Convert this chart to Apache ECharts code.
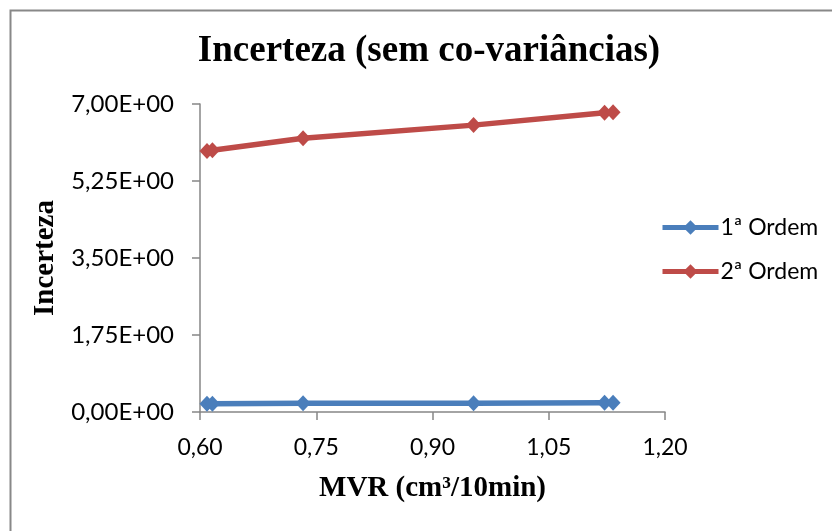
<!DOCTYPE html>
<html>
<head>
<meta charset="utf-8">
<script src="https://cdn.jsdelivr.net/npm/echarts@6/dist/echarts.min.js"></script>
<style>html,body{margin:0;padding:0;background:#fff}#c{width:832px;height:531px}</style>
</head>
<body>
<div id="c"></div>
<script>
const titleText = 'Incerteza (sem co-variâncias)';
const xName = 'MVR (cm³/10min)';
const yName = 'Incerteza';
const seriesNames = ['1ª Ordem', '2ª Ordem'];
const xVals = [0.609, 0.616, 0.733, 0.953, 1.122, 1.133];
const ordem1 = [0.19, 0.19, 0.20, 0.20, 0.21, 0.21];
const ordem2 = [5.93, 5.95, 6.22, 6.52, 6.80, 6.81];

const chart = echarts.init(document.getElementById('c'));
const pair = (ys) => xVals.map((x, i) => [x, ys[i]]);
const tickFont = 'Lato';
const axisColor = '#868686';

chart.setOption({
  animation: false,
  backgroundColor: '#fff',
  graphic: [{
    type: 'rect', left: 8, top: 8, silent: true,
    shape: { width: 900, height: 600 },
    style: { fill: 'none', stroke: '#888888', lineWidth: 2 }
  }],
  title: {
    text: titleText, left: 424, top: 28, textAlign: 'center',
    textStyle: { fontFamily: 'Liberation Serif', fontWeight: 'bold', fontSize: 37, color: '#000' }
  },
  grid: { left: 200, right: 167, top: 104, bottom: 119, containLabel: false },
  legend: {
    orient: 'vertical', left: 655, top: 211, itemWidth: 56, itemHeight: 18, itemGap: 21,
    lineStyle: { width: 5 },
    textStyle: { fontFamily: tickFont, fontSize: 23, color: '#000', padding: [0, 0, 0, -3] },
    data: seriesNames
  },
  xAxis: {
    type: 'value', min: 0.6, max: 1.2, interval: 0.15,
    name: xName, nameLocation: 'middle', nameGap: 62,
    nameTextStyle: { fontFamily: 'Liberation Serif', fontWeight: 'bold', fontSize: 29, color: '#000' },
    axisLine: { show: true, lineStyle: { color: axisColor, width: 1.5 } },
    axisTick: { show: true, length: 8, lineStyle: { color: axisColor, width: 1.5 } },
    axisLabel: { margin: 24, fontFamily: tickFont, fontSize: 23, color: '#000',
      formatter: v => v.toFixed(2).replace('.', ',') },
    splitLine: { show: false }
  },
  yAxis: {
    type: 'value', min: 0, max: 7, interval: 1.75,
    name: yName, nameLocation: 'middle', nameGap: 127, nameRotate: 90,
    nameTextStyle: { fontFamily: 'Liberation Serif', fontWeight: 'bold', fontSize: 29, color: '#000' },
    axisLine: { show: true, lineStyle: { color: axisColor, width: 1.5 } },
    axisTick: { show: true, length: 8, lineStyle: { color: axisColor, width: 1.5 } },
    axisLabel: { margin: 26, fontFamily: tickFont, fontSize: 24, color: '#000',
      formatter: v => v.toFixed(2).replace('.', ',') + 'E+00' },
    splitLine: { show: false }
  },
  series: [
    { name: seriesNames[0], type: 'line', data: pair(ordem1), symbol: 'diamond', symbolSize: [15, 16],
      lineStyle: { color: '#4A7EBB', width: 5.5 }, itemStyle: { color: '#4A7EBB' } },
    { name: seriesNames[1], type: 'line', data: pair(ordem2), symbol: 'diamond', symbolSize: [15, 16],
      lineStyle: { color: '#BE4B48', width: 5.5 }, itemStyle: { color: '#BE4B48' } }
  ]
});
</script>
</body>
</html>
